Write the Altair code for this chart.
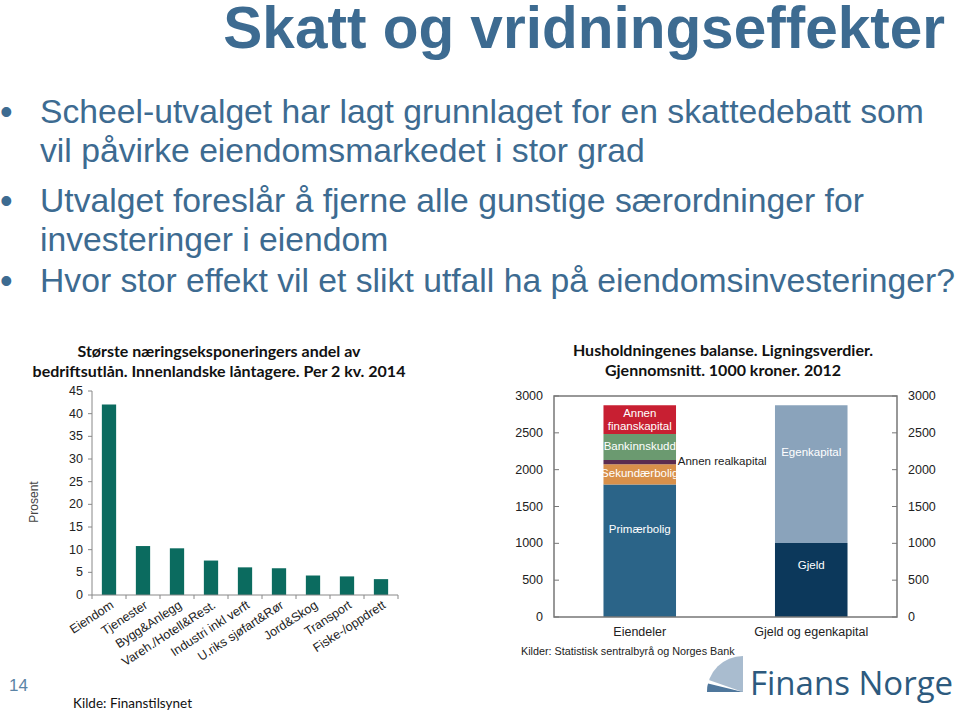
import altair as alt
import pandas as pd

# ---------- data ----------
# Left chart: largest industry exposures, share of corporate loans (%)
naering = ["Eiendom", "Tjenester", "Bygg&Anlegg", "Vareh./Hotell&Rest.",
           "Industri inkl verft", "U.riks sjøfart&Rør", "Jord&Skog",
           "Transport", "Fiske-/oppdrett"]
andel = [42.0, 10.8, 10.3, 7.6, 6.1, 5.9, 4.3, 4.1, 3.5]
venstre_ticks = [0, 5, 10, 15, 20, 25, 30, 35, 40, 45]

# Right chart: household balance sheet (1000 NOK, 2012)
soyler = ["Eiendeler", "Gjeld og egenkapital"]
poster = ["Primærbolig", "Sekundærbolig", "Annen realkapital", "Bankinnskudd",
          "Annen finanskapital", "Gjeld", "Egenkapital"]
post_soyle = ["Eiendeler"] * 5 + ["Gjeld og egenkapital"] * 2
belop = [1800, 275, 55, 355, 390, 1005, 1870]
etiketter = ["Primærbolig", "Sekundærbolig", "Annen realkapital", "Bankinnskudd",
             "Annen\nfinanskapital", "Gjeld", "Egenkapital"]
farger = ["#2b6488", "#d8904a", "#5b2c4f", "#6b9a70", "#c81f32", "#0c385b", "#8aa3bb"]
hoyre_ticks = [0, 500, 1000, 1500, 2000, 2500, 3000]

bullets = [
    "Scheel-utvalget har lagt grunnlaget for en skattedebatt som",
    "vil påvirke eiendomsmarkedet i stor grad",
    "Utvalget foreslår å fjerne alle gunstige særordninger for",
    "investeringer i eiendom",
    "Hvor stor effekt vil et slikt utfall ha på eiendomsinvesteringer?",
]

SLIDE_BLUE = "#3d6b91"
ARIAL = "Liberation Sans"
CAL = "Lato"

one = pd.DataFrame({"i": [0]})


def txt(text, x, y, size, color="#222222", font=ARIAL, weight="normal",
        align="left", baseline="alphabetic", angle=None, line_height=None):
    kw = dict(font=font, fontSize=size, fontWeight=weight, color=color,
              align=align, baseline=baseline)
    if angle is not None:
        kw["angle"] = angle
    if line_height is not None:
        kw["lineHeight"] = line_height
        kw["lineBreak"] = "\n"
    return alt.Chart(one).mark_text(**kw).encode(
        x=alt.value(x), y=alt.value(y), text=alt.value(text))


def rule(x, x2, y, y2, color="#888888", width=1.0):
    return alt.Chart(one).mark_rule(color=color, strokeWidth=width).encode(
        x=alt.value(x), x2=alt.value(x2), y=alt.value(y), y2=alt.value(y2))


layers = []

# ---------- slide text ----------
layers.append(txt("Skatt og vridningseffekter", 945, 48, 58.5, SLIDE_BLUE,
                  weight="bold", align="right"))
bullet_y = [123, 162, 212, 251, 292]
for t, y in zip(bullets, bullet_y):
    layers.append(txt(t, 40, y, 33.7, SLIDE_BLUE))
for y in [123, 212, 292]:
    layers.append(txt("•", 0, y + 1, 36, SLIDE_BLUE))

layers.append(txt("14", 9, 691, 17, "#5b84a6"))
layers.append(txt("Kilde: Finanstilsynet", 73, 708, 13.5, "#111111", font=CAL))

# logo
layers.append(alt.Chart(one).mark_arc(theta=4.712, theta2=6.283, radius=36,
                                      color="#a9bccf").encode(
    x=alt.value(743), y=alt.value(692)))
layers.append(alt.Chart(one).mark_arc(theta=4.712, theta2=5.0, radius=36,
                                      color="#4f779c").encode(
    x=alt.value(743), y=alt.value(692)))
layers.append(alt.Chart(one).mark_arc(theta=4.95, theta2=5.05, radius=37,
                                      color="#ffffff").encode(
    x=alt.value(743), y=alt.value(692)))
layers.append(txt("Finans Norge", 750, 695, 33, "#2d5a7e", font="Open Sans"))

# ---------- left chart ----------
xL = alt.Scale(domain=naering, range=[92, 398], paddingInner=0.58, paddingOuter=0.29)
xLb = alt.Scale(domain=naering, range=[92, 398], paddingInner=0, paddingOuter=0)
yL = alt.Scale(domain=[0, 45], range=[595, 391], nice=False)
df_l = pd.DataFrame({"naering": naering, "andel": andel})
df_lt = pd.DataFrame({"v": venstre_ticks})

layers.append(txt("Største næringseksponeringers andel av\nbedriftsutlån. Innenlandske låntagere. Per 2 kv. 2014",
                  219, 357, 16, "#111111", font=CAL, weight="bold",
                  align="center", line_height=20))
layers.append(alt.Chart(df_l).mark_bar(color="#0b6b5f").encode(
    x=alt.X("naering:N", scale=xL, axis=None),
    y=alt.Y("andel:Q", scale=yL, axis=None)))
layers.append(rule(92, 92, 391, 595))
layers.append(rule(92, 398, 595, 595))
layers.append(alt.Chart(df_lt).mark_rule(color="#888888").encode(
    y=alt.Y("v:Q", scale=yL, axis=None), x=alt.value(88), x2=alt.value(92)))
layers.append(alt.Chart(df_lt).mark_text(font=ARIAL, fontSize=12.5, color="#222222",
                                         align="right", baseline="middle").encode(
    y=alt.Y("v:Q", scale=yL, axis=None), x=alt.value(83), text="v:Q"))
layers.append(alt.Chart(df_l).mark_rule(color="#888888").encode(
    x=alt.X("naering:N", scale=xLb, axis=None, bandPosition=0),
    y=alt.value(595), y2=alt.value(599)))
layers.append(rule(398, 398, 595, 599))
layers.append(alt.Chart(df_l).mark_text(font=ARIAL, fontSize=12.5, color="#222222",
                                        align="right", baseline="middle",
                                        angle=327, dx=4).encode(
    x=alt.X("naering:N", scale=xL, axis=None), y=alt.value(606), text="naering:N"))
layers.append(txt("Prosent", 34, 502, 12, "#444444", align="center",
                  baseline="middle", angle=270))

# ---------- right chart ----------
xR = alt.Scale(domain=soyler, range=[554, 897], paddingInner=0.577, paddingOuter=0.2885)
yR = alt.Scale(domain=[0, 3000], range=[617, 396], nice=False)
df_r = pd.DataFrame({"soyle": post_soyle, "post": poster, "belop": belop,
                     "etikett": etiketter, "rekke": list(range(len(poster)))})
df_rt = pd.DataFrame({"v": hoyre_ticks})
df_rs = pd.DataFrame({"soyle": soyler})

layers.append(txt("Husholdningenes balanse. Ligningsverdier.\nGjennomsnitt. 1000 kroner. 2012",
                  723, 356, 16, "#111111", font=CAL, weight="bold",
                  align="center", line_height=20))
layers.append(alt.Chart(df_r).mark_bar().encode(
    x=alt.X("soyle:N", scale=xR, axis=None),
    y=alt.Y("belop:Q", scale=yR, axis=None, stack="zero"),
    color=alt.Color("post:N", scale=alt.Scale(domain=poster, range=farger), legend=None),
    order=alt.Order("rekke:Q", sort="ascending")))

lab = alt.Chart(df_r).transform_stack(
    stack="belop", groupby=["soyle"], as_=["y0", "y1"],
    sort=[alt.SortField("rekke", order="ascending")]
).transform_calculate(mid="(datum.y0 + datum.y1) / 2")


def seg_labels(names, dy=0, color="#ffffff", align="center", dx=0):
    return lab.transform_filter(
        alt.FieldOneOfPredicate(field="post", oneOf=names)
    ).mark_text(font=ARIAL, fontSize=11.5, color=color, baseline="middle",
                align=align, dx=dx, dy=dy, lineBreak="\n", lineHeight=13).encode(
        x=alt.X("soyle:N", scale=xR, axis=None),
        y=alt.Y("mid:Q", scale=yR, axis=None), text="etikett:N")


layers.append(seg_labels(["Primærbolig", "Egenkapital"], dy=-21))
layers.append(seg_labels(["Gjeld"], dy=-14))
layers.append(seg_labels(["Sekundærbolig", "Bankinnskudd"], dy=0))
layers.append(seg_labels(["Annen finanskapital"], dy=-6))
layers.append(seg_labels(["Annen realkapital"], color="#222222", align="left", dx=38))

# frame + ticks
layers.append(alt.Chart(one).mark_rect(filled=False, stroke="#777777", strokeWidth=1.5).encode(
    x=alt.value(554), x2=alt.value(897), y=alt.value(396), y2=alt.value(617)))
layers.append(alt.Chart(df_rt).mark_rule(color="#777777").encode(
    y=alt.Y("v:Q", scale=yR, axis=None), x=alt.value(554), x2=alt.value(559)))
layers.append(alt.Chart(df_rt).mark_rule(color="#777777").encode(
    y=alt.Y("v:Q", scale=yR, axis=None), x=alt.value(892), x2=alt.value(897)))
layers.append(alt.Chart(df_rt).mark_text(font=ARIAL, fontSize=12.5, color="#222222",
                                         align="right", baseline="middle").encode(
    y=alt.Y("v:Q", scale=yR, axis=None), x=alt.value(543), text="v:Q"))
layers.append(alt.Chart(df_rt).mark_text(font=ARIAL, fontSize=12.5, color="#222222",
                                         align="left", baseline="middle").encode(
    y=alt.Y("v:Q", scale=yR, axis=None), x=alt.value(908), text="v:Q"))
layers.append(alt.Chart(df_rs).mark_text(font=ARIAL, fontSize=12.5, color="#222222",
                                         baseline="alphabetic").encode(
    x=alt.X("soyle:N", scale=xR, axis=None), y=alt.value(636), text="soyle:N"))
layers.append(txt("Kilder: Statistisk sentralbyrå og Norges Bank", 521, 655, 10.8, "#222222"))

chart = alt.layer(*layers).resolve_scale(
    x="independent", y="independent", color="independent"
).properties(
    width=960, height=712, autosize=alt.AutoSizeParams(type="none"), padding=0,
    background="#ffffff"
).configure_view(stroke=None)

chart.save("out.html", embed_options={"renderer": "svg", "actions": False})
